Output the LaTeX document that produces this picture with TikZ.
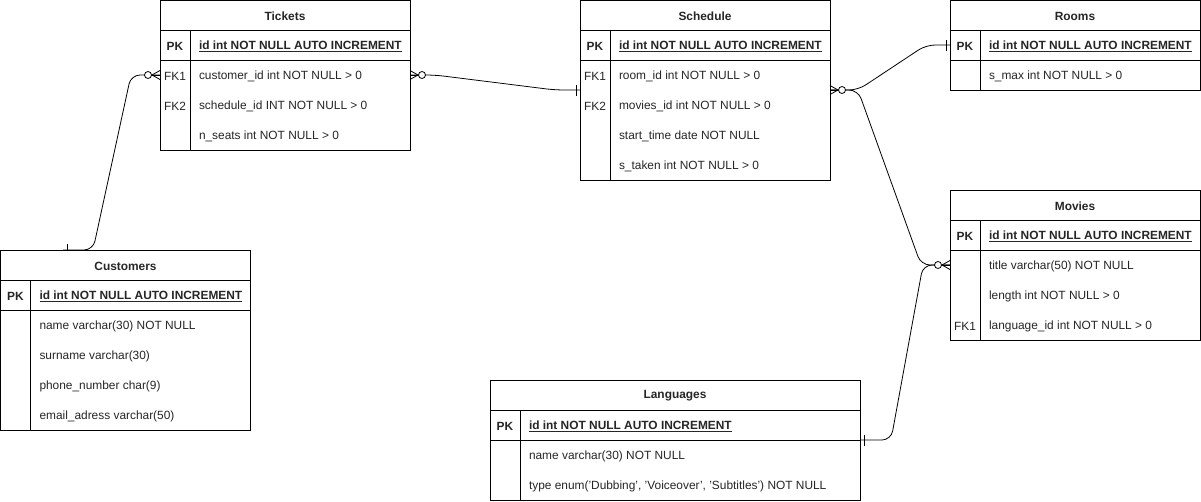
\documentclass[tikz,border=0pt]{standalone}
\usepackage{fontspec}
\setmainfont{Liberation Sans}
\usetikzlibrary{calc}
\newcommand{\ertable}[6]{%
  \node[tbl, minimum width=#4pt, minimum height=#5pt] (#1) at (#2,#3) {};
  \draw ($(#1.north west)+(0,30)$) -- ($(#1.north east)+(0,30)$);
  \draw ($(#1.north west)+(0,60)$) -- ($(#1.north east)+(0,60)$);
  \draw ($(#1.north west)+(30,30)$) -- ($(#1.south west)+(30,0)$);
  \node[ttl] (#1-t) at ($(#1.north)+(0,16)$) {#6};
  \node[keyl] (#1-pkk) at ($(#1.north west)+(15,46)$) {\bfseries PK};
  \node[fld] (#1-pk) at ($(#1.north west)+(38.5,46)$) {\bfseries\underline{id int NOT NULL AUTO INCREMENT}};
}
\newcommand{\erfield}[4]{% table, row y offset, key, text
  \node[keyl] (#1-k#2) at ($(#1.north west)+(15,#2+1)$) {#3};
  \node[fld] (#1-f#2) at ($(#1.north west)+(38.5,#2+1)$) {#4};
}
\begin{document}
\begin{tikzpicture}[x=1pt,y=-1pt, line width=1pt,
  every node/.style={font=\fontsize{11.9}{14}\selectfont, text=black!85},
  tbl/.style={draw, inner sep=0pt, outer sep=0pt, anchor=north west, fill=white},
  ttl/.style={font=\fontsize{11.9}{14}\selectfont\bfseries},
  keyl/.style={anchor=center, inner sep=0pt},
  fld/.style={anchor=west, inner sep=0pt},
  conn/.style={line width=0.8pt, rounded corners=9pt},
  zmany/.pic={\draw[line width=0.8pt] (0,-4.5) -- (8,0) -- (0,4.5); \draw[line width=0.8pt] (0,0) -- (16,0); \draw[line width=0.8pt, fill=white] (12,0) circle (3.5pt);},
  onemk/.pic={\draw[line width=0.8pt] (4,-5.5) -- (4,5.5);}
  ]
\useasboundingbox (0,0) rectangle (1201,501);
\fill[white] (0,0) rectangle (1201,501);

% connectors first (behind tables)
\coordinate (c1a) at (160,75);
\coordinate (c1b) at (63,250);
\coordinate (c2a) at (410,75);
\coordinate (c2b) at (580,90);
\coordinate (c3a) at (830,90);
\coordinate (c3b) at (950,45);
\coordinate (c4b) at (950,265);
\coordinate (c5a) at (860,440);

\draw[conn] (c1b) -- (93,250) -- (131,75) -- (c1a);
\draw[conn] (c2a) -- (435,75) -- (555,90) -- (c2b);
\draw[conn] (c3a) -- (858,90) -- (926,45) -- (c3b);
\draw[conn] (c3a) -- (858,90) -- (921,265) -- (c4b);
\draw[conn] (c5a) -- (891,440) -- (923,265) -- (c4b);

% tables
\ertable{tickets}{160}{0}{250}{150}{Tickets}
\erfield{tickets}{75}{FK1}{customer\_id int NOT NULL > 0}
\erfield{tickets}{105}{FK2}{schedule\_id INT NOT NULL > 0}
\erfield{tickets}{135}{}{n\_seats int NOT NULL > 0}

\ertable{schedule}{580}{0}{250}{180}{Schedule}
\erfield{schedule}{75}{FK1}{room\_id int NOT NULL > 0}
\erfield{schedule}{105}{FK2}{movies\_id int NOT NULL > 0}
\erfield{schedule}{135}{}{start\_time date NOT NULL}
\erfield{schedule}{165}{}{s\_taken int NOT NULL > 0}

\ertable{rooms}{950}{0}{250}{90}{Rooms}
\erfield{rooms}{75}{}{s\_max int NOT NULL > 0}

\ertable{movies}{950}{190}{250}{150}{Movies}
\erfield{movies}{75}{}{title varchar(50) NOT NULL}
\erfield{movies}{105}{}{length int NOT NULL > 0}
\erfield{movies}{135}{FK1}{language\_id int NOT NULL > 0}

\ertable{customers}{0.5}{250}{250}{180}{Customers}
\erfield{customers}{75}{}{name varchar(30) NOT NULL}
\erfield{customers}{105}{}{surname varchar(30)}
\erfield{customers}{135}{}{phone\_number char(9)}
\erfield{customers}{165}{}{email\_adress varchar(50)}

\ertable{languages}{490}{380}{370}{120}{Languages}
\erfield{languages}{75}{}{name varchar(30) NOT NULL}
\erfield{languages}{105}{}{type enum('Dubbing', 'Voiceover', 'Subtitles') NOT NULL}

% markers
\pic[rotate=180] at (c1a) {zmany};
\pic at (c2a) {zmany};
\pic at (c3a) {zmany};
\pic[rotate=180] at (c4b) {zmany};
\pic[rotate=180] at (c2b) {onemk};
\pic[rotate=180] at (c3b) {onemk};
\pic at (c5a) {onemk};
\draw[line width=0.8pt] (67,244) -- (67,250);
\end{tikzpicture}
\end{document}
